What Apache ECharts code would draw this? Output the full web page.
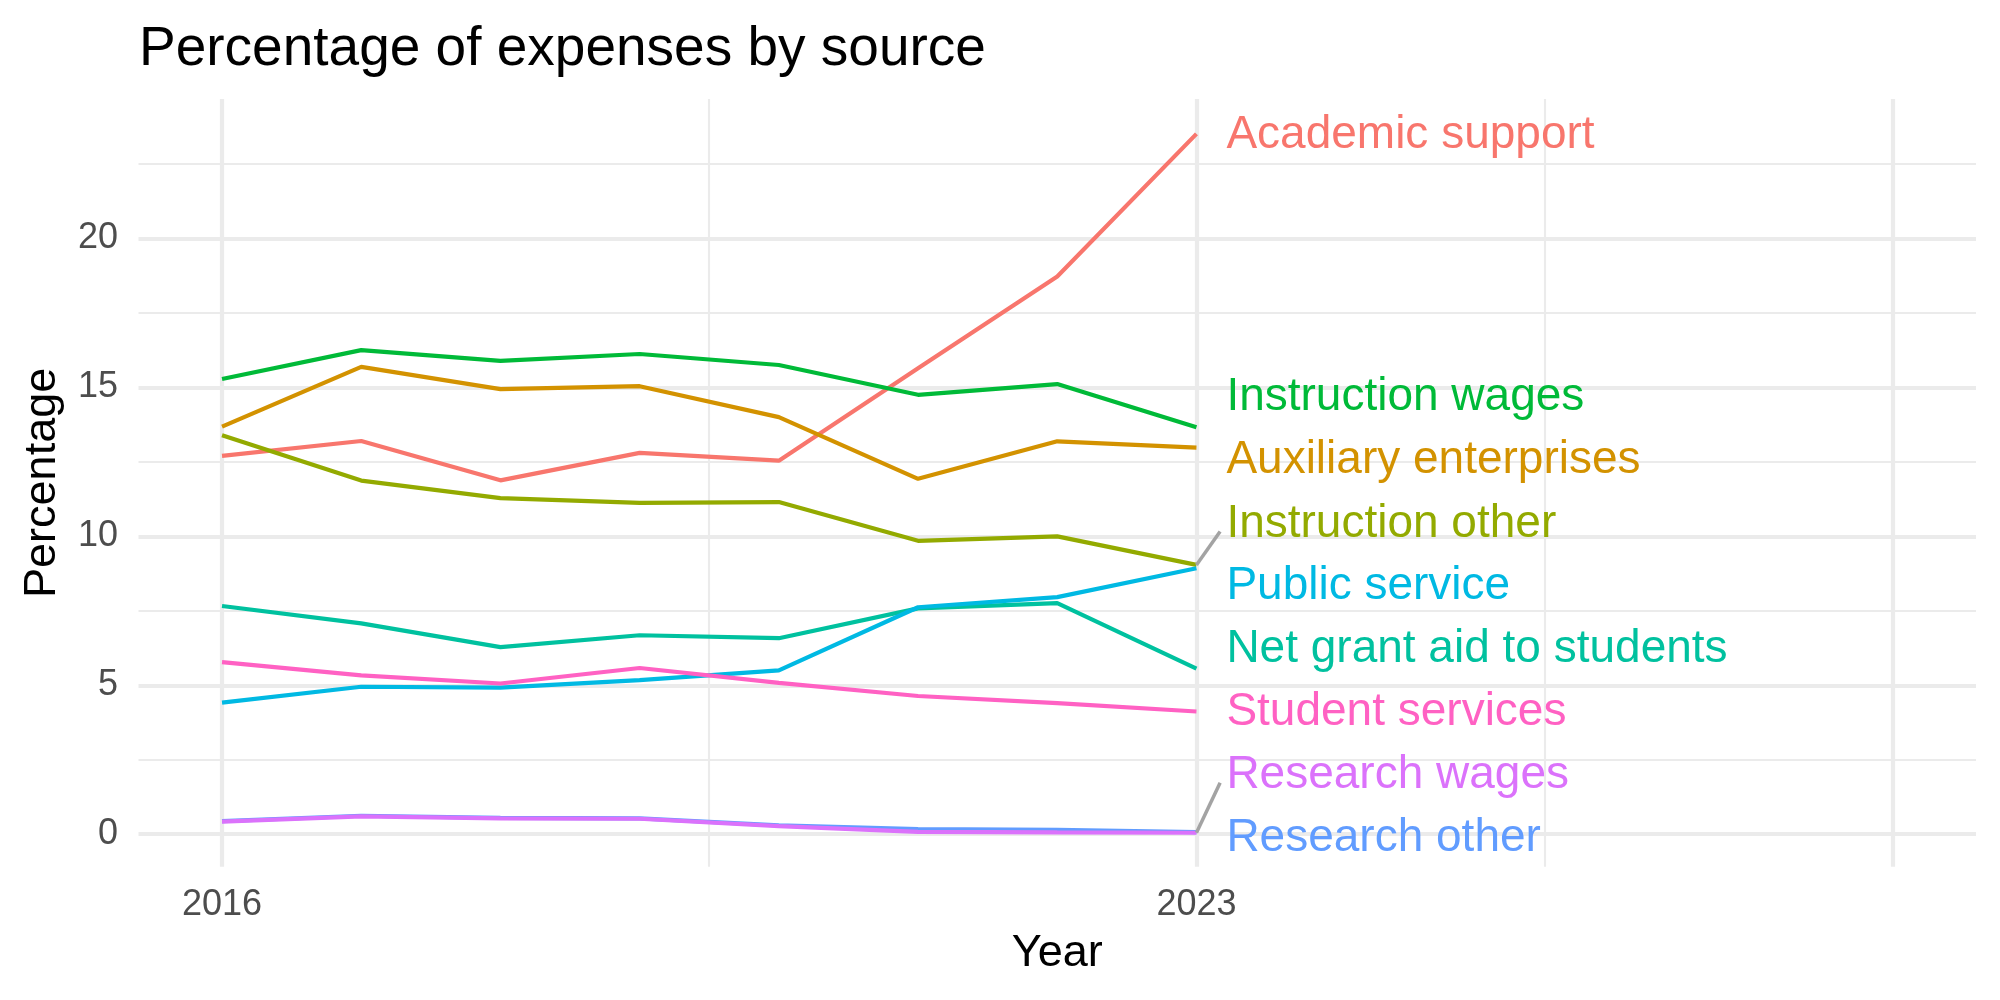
<!DOCTYPE html>
<html>
<head>
<meta charset="utf-8">
<title>Percentage of expenses by source</title>
<script src="https://cdn.jsdelivr.net/npm/echarts@6/dist/echarts.min.js"></script>
<style>
  html, body { margin: 0; padding: 0; background: #fff; }
  #main { width: 2000px; height: 1000px; }
</style>
</head>
<body>
<div id="main"></div>
<script>
// data (percent of expenses)
var years = [2016, 2017, 2018, 2019, 2020, 2021, 2022, 2023];
var academicSupport      = [12.70, 13.20, 11.88, 12.80, 12.54, 15.64, 18.72, 23.51];
var auxiliaryEnterprises = [13.68, 15.69, 14.94, 15.04, 14.00, 11.93, 13.19, 12.98];
var instructionOther     = [13.39, 11.87, 11.28, 11.12, 11.15, 9.85, 10.00, 9.04];
var instructionWages     = [15.28, 16.25, 15.89, 16.12, 15.75, 14.75, 15.11, 13.66];
var netGrantAid          = [7.66, 7.08, 6.28, 6.68, 6.58, 7.58, 7.76, 5.56];
var publicService        = [4.42, 4.95, 4.92, 5.17, 5.50, 7.62, 7.96, 8.93];
var researchOther        = [0.44, 0.62, 0.55, 0.53, 0.30, 0.17, 0.15, 0.07];
var researchWages        = [0.42, 0.60, 0.53, 0.52, 0.27, 0.08, 0.06, 0.05];
var studentServices      = [5.78, 5.33, 5.06, 5.58, 5.08, 4.64, 4.40, 4.12];

var sources = ['Academic support', 'Auxiliary enterprises', 'Instruction other',
  'Instruction wages', 'Net grant aid to students', 'Public service',
  'Research other', 'Research wages', 'Student services'];
var values = [academicSupport, auxiliaryEnterprises, instructionOther,
  instructionWages, netGrantAid, publicService, researchOther, researchWages,
  studentServices];
var colors = ['#F8766D', '#D39200', '#93AA00', '#00BA38', '#00C19F',
  '#00B9E3', '#619CFF', '#DB72FB', '#FF61C3'];

// where the repelled labels ended up (in percent), same order as sources
var labelY = [23.53, 12.62, 10.46, 14.73, 6.29, 8.39, -0.08, 2.03, 4.15];
var labelYear = 2023.215;

// axis breaks
var xMajor = [2016, 2023, 2028];
var xMinor = [2019.5, 2025.5];
var yMajor = [0, 5, 10, 15, 20];
var yMinor = [2.5, 7.5, 12.5, 17.5, 22.5];
var xLabels = [2016, 2023];

var font = "'Liberation Sans', Arial, Helvetica, sans-serif";
var chart = echarts.init(document.getElementById('main'), null, { renderer: 'canvas' });

function gridLines(list, key, width) {
  return list.map(function (v) {
    var d = { lineStyle: { width: width } };
    d[key] = v;
    return d;
  });
}

var series = [];

// background grid (ggplot theme_minimal style), kept under the lines
series.push({
  type: 'line',
  name: 'grid',
  data: [],
  z: 1,
  silent: true,
  markLine: {
    z: 1,
    silent: true,
    symbol: 'none',
    animation: false,
    label: { show: false },
    lineStyle: { color: '#EBEBEB', type: 'solid' },
    data: [].concat(
      gridLines(yMinor, 'yAxis', 2.1),
      gridLines(xMinor, 'xAxis', 2.1),
      gridLines(yMajor, 'yAxis', 4.2),
      gridLines(xMajor, 'xAxis', 4.2)
    )
  }
});

sources.forEach(function (name, i) {
  series.push({
    type: 'line',
    name: name,
    z: 3,
    symbol: 'none',
    lineStyle: { width: 4.2, color: colors[i] },
    itemStyle: { color: colors[i] },
    data: years.map(function (y, k) { return [y, values[i][k]]; })
  });
});

// text labels + leader segments for labels pushed away from the line end
var labelData = [];
var segments = [];
sources.forEach(function (name, i) {
  var last = values[i][values[i].length - 1];
  labelData.push({
    value: [labelYear, labelY[i]],
    name: name,
    label: { color: colors[i] }
  });
  if (Math.abs(labelY[i] - last) > 1.2) {
    segments.push([
      { coord: [years[years.length - 1], last] },
      { coord: [labelYear - 0.045, labelY[i] - 0.3] }
    ]);
  }
});

series.push({
  type: 'scatter',
  name: 'labels',
  z: 4,
  symbolSize: 0,
  silent: true,
  itemStyle: { opacity: 1 },
  label: {
    show: true,
    position: 'right',
    distance: 0,
    offset: [0, 2],
    align: 'left',
    verticalAlign: 'middle',
    fontFamily: font,
    fontSize: 46,
    opacity: 1,
    textBorderWidth: 0,
    textShadowBlur: 0,
    formatter: function (p) { return p.name; }
  },
  markLine: {
    z: 4,
    silent: true,
    symbol: 'none',
    animation: false,
    label: { show: false },
    lineStyle: { color: '#A3A3A3', width: 3.5, type: 'solid' },
    data: segments
  },
  data: labelData
});

var option = {
  animation: false,
  backgroundColor: '#fff',
  title: {
    text: 'Percentage of expenses by source',
    left: 139,
    top: 22,
    padding: 0,
    textStyle: { fontFamily: font, fontSize: 55, fontWeight: 'normal', color: '#000' }
  },
  grid: { left: 138.5, right: 24, top: 99, bottom: 133.3, containLabel: false },
  xAxis: {
    type: 'value',
    min: 2015.4,
    max: 2028.6,
    splitNumber: 13,
    name: 'Year',
    nameLocation: 'middle',
    nameGap: 64,
    nameTextStyle: { fontFamily: font, fontSize: 45, color: '#000' },
    axisLine: { show: false },
    axisTick: { show: false },
    splitLine: { show: false },
    axisLabel: {
      margin: 20,
      fontFamily: font,
      fontSize: 36,
      color: '#4D4D4D',
      formatter: function (v) { return xLabels.indexOf(v) >= 0 ? String(v) : ''; }
    }
  },
  yAxis: {
    type: 'value',
    min: -1.09,
    max: 24.68,
    splitNumber: 5,
    name: 'Percentage',
    nameLocation: 'middle',
    nameGap: 73,
    nameTextStyle: { fontFamily: font, fontSize: 45, color: '#000' },
    axisLine: { show: false },
    axisTick: { show: false },
    splitLine: { show: false },
    axisLabel: {
      margin: 20.5,
      fontFamily: font,
      fontSize: 36,
      color: '#4D4D4D',
      formatter: function (v) { return yMajor.indexOf(v) >= 0 ? String(v) : ''; }
    }
  },
  series: series
};

chart.setOption(option);
</script>
</body>
</html>
